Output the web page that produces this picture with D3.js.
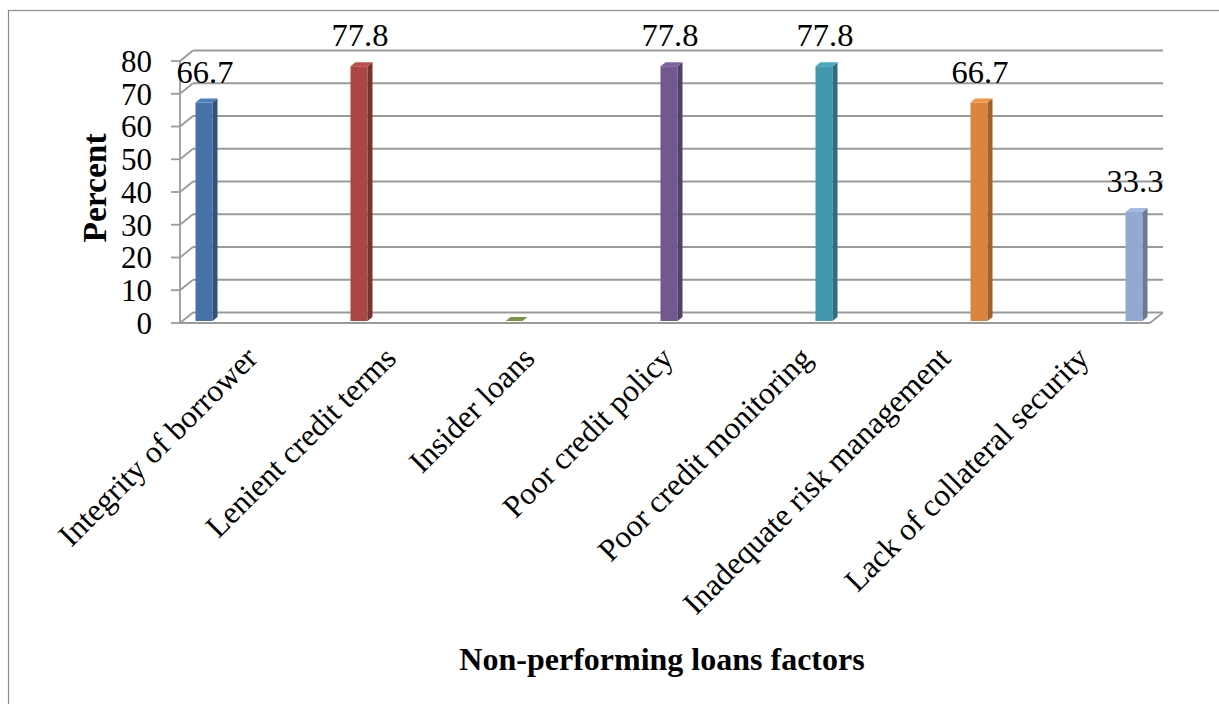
<!DOCTYPE html>
<html>
<head>
<meta charset="utf-8">
<script src="https://cdn.jsdelivr.net/npm/d3@7/dist/d3.min.js"></script>
<style>
  html, body { margin: 0; padding: 0; background: #fff; }
  svg { display: block; }
  text { font-family: "Liberation Serif", "Times New Roman", serif; fill: #000; }
</style>
</head>
<body>
<svg id="chart" width="1219" height="704"></svg>
<script>
// Non-performing loans factors (percent of respondents)
const categories = [
  "Integrity of borrower",
  "Lenient credit terms",
  "Insider loans",
  "Poor credit policy",
  "Poor credit monitoring",
  "Inadequate risk management",
  "Lack of collateral security"
];
const values = [66.7, 77.8, 0, 77.8, 77.8, 66.7, 33.3];
const colors = ["#4572a7", "#aa4643", "#89a54e", "#71588f", "#4198af", "#db843d", "#93a9cf"];
const yTicks = [0, 10, 20, 30, 40, 50, 60, 70, 80];
const yTitle = "Percent";
const xTitle = "Non-performing loans factors";

const svg = d3.select("#chart");

// chart frame
svg.append("rect")
  .attr("x", 8.5).attr("y", 10.5)
  .attr("width", 1300).attr("height", 800)
  .attr("fill", "none").attr("stroke", "#8c8c8c").attr("stroke-width", 1.2);

// front plane geometry and depth offset of the back wall
const x0 = 180, x1 = 1150;
const dx = 13, dy = -10.5;
const y = d3.scaleLinear().domain([0, 80]).range([323, 61]);
const xAxis = d3.scaleBand().domain(categories).range([x0, x1]);
const xBar = d3.scalePoint().domain(categories).range([204, 1134]);

const grid = svg.append("g").attr("stroke", "#9a9a9a").attr("stroke-width", 1.8).attr("fill", "none");

// back wall gridlines
grid.selectAll("line.gl").data(yTicks).join("line")
  .attr("x1", x0 + dx).attr("x2", x1 + dx)
  .attr("y1", d => y(d) + dy).attr("y2", d => y(d) + dy);

// side wall diagonals
grid.selectAll("line.dg").data(yTicks).join("line")
  .attr("x1", x0).attr("y1", d => y(d))
  .attr("x2", x0 + dx).attr("y2", d => y(d) + dy);

// front vertical axis
grid.append("line").attr("x1", x0).attr("x2", x0).attr("y1", y(0)).attr("y2", y(80));

// floor front edge and right edge
grid.append("line").attr("x1", x0).attr("x2", x1).attr("y1", y(0)).attr("y2", y(0));
grid.append("line").attr("x1", x1).attr("y1", y(0)).attr("x2", x1 + dx).attr("y2", y(0) + dy);

// tick marks
grid.selectAll("line.tk").data(yTicks).join("line")
  .attr("x1", x0 - 9).attr("x2", x0)
  .attr("y1", d => y(d)).attr("y2", d => y(d));

// tick labels
svg.append("g").selectAll("text").data(yTicks).join("text")
  .attr("x", 152).attr("y", d => y(d))
  .attr("dy", "0.35em")
  .attr("text-anchor", "end")
  .style("font-size", "31px")
  .text(d => d);

// 3D bars
const w = 17, bx = 5, by = -4;
const base = y(0) - 2;
const yb = v => y(v) - 2;
const bars = svg.append("g");
categories.forEach((c, i) => {
  const cx = xBar(c);
  const l = cx - w / 2, r = cx + w / 2;
  const t = yb(values[i]);
  const col = d3.color(colors[i]);
  const g = bars.append("g");
  if (values[i] > 0) {
    g.append("rect").attr("x", l).attr("y", t).attr("width", w).attr("height", base - t)
      .attr("fill", col.formatHex());
    g.append("polygon")
      .attr("points", [[r, t], [r + bx, t + by], [r + bx, base + by], [r, base]].join(" "))
      .attr("fill", col.darker(0.9).formatHex());
  }
  g.append("polygon")
    .attr("points", [[l, t], [l + bx, t + by], [r + bx, t + by], [r, t]].join(" "))
    .attr("fill", values[i] > 0 ? col.brighter(0.3).formatHex() : col.darker(0.3).formatHex());
});

// value labels
svg.append("g").selectAll("text").data(categories.filter((c, i) => values[i] > 0)).join("text")
  .attr("x", c => xBar(c) + 1)
  .attr("y", c => yb(values[categories.indexOf(c)]) - 20)
  .attr("text-anchor", "middle")
  .style("font-size", "32.5px")
  .text(c => values[categories.indexOf(c)].toFixed(1));

// category labels
svg.append("g").selectAll("text").data(categories).join("text")
  .attr("transform", c => `translate(${xAxis(c) + xAxis.bandwidth() / 2 + 10},360) rotate(-45)`)
  .attr("text-anchor", "end")
  .style("font-size", "31.5px")
  .text(c => c);

// axis titles
svg.append("text")
  .attr("transform", "translate(106,188) rotate(-90)")
  .attr("text-anchor", "middle")
  .style("font-size", "33.5px").style("font-weight", "bold")
  .text(yTitle);

svg.append("text")
  .attr("x", 662).attr("y", 670)
  .attr("text-anchor", "middle")
  .style("font-size", "32px").style("font-weight", "bold")
  .text(xTitle);
</script>
</body>
</html>
